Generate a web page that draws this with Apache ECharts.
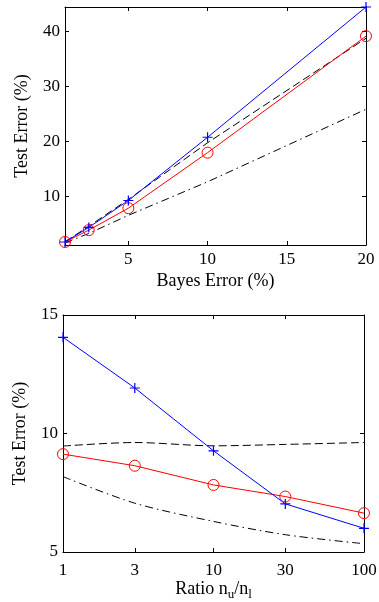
<!DOCTYPE html>
<html>
<head>
<meta charset="utf-8">
<script src="https://cdn.jsdelivr.net/npm/echarts@6/dist/echarts.min.js"></script>
<style>
  html, body { margin: 0; padding: 0; background: #fff; }
  #chart { width: 379px; height: 602px; }
</style>
</head>
<body>
<div id="chart"></div>
<script>
// top panel: test error vs bayes error
const bayesErr = [1, 2.5, 5, 10, 20];
const topBlue = [1.75, 4.4, 9.3, 20.8, 44.5];
const topRed = [1.75, 3.9, 7.9, 18.0, 39.2];
const topDash = [1.8, 4.6, 9.5, 19.8, 38.8];
const topDashDot = [1.6, 3.3, 6.6, 12.7, 25.9];
const topXTicks = [5, 10, 15, 20];
const topYTicks = [10, 20, 30, 40];

// bottom panel: test error vs ratio nu/nl
const ratio = [1, 3, 10, 30, 100];
const botBlue = [14.06, 11.92, 9.27, 7.03, 6.0];
const botRed = [9.13, 8.64, 7.83, 7.34, 6.64];
const botDash = [9.47, 9.62, 9.48, 9.54, 9.62];
const botDashDot = [8.18, 7.06, 6.29, 5.73, 5.35];
const botXTicks = [1, 3, 10, 30, 100];
const botYTicks = [5, 10, 15];

const font = 'Liberation Serif';
const plus = 'path://M4.4,0H5.6V4.4H10V5.6H5.6V10H4.4V5.6H0V4.4H4.4Z';

const pair = (xs, ys) => xs.map((x, i) => [x, ys[i]]);

function xAx(grid, pos, min, max, ticks, extra) {
    return Object.assign({
        gridIndex: grid,
        position: pos,
        min: min,
        max: max,
        splitLine: { show: false },
        axisLine: { onZero: false, lineStyle: { color: '#000', width: 1 } },
        axisTick: { inside: true, length: 4, customValues: ticks, lineStyle: { color: '#000' } },
        axisLabel: pos === 'bottom'
            ? { customValues: ticks, color: '#000', fontFamily: font, fontSize: 17, margin: 6 }
            : { show: false }
    }, extra);
}

function yAx(grid, pos, min, max, ticks, extra) {
    return Object.assign({
        type: 'value',
        gridIndex: grid,
        position: pos,
        min: min,
        max: max,
        splitLine: { show: false },
        axisLine: { onZero: false, lineStyle: { color: '#000', width: 1 } },
        axisTick: { inside: true, length: 4, customValues: ticks, lineStyle: { color: '#000' } },
        axisLabel: pos === 'left'
            ? { customValues: ticks, color: '#000', fontFamily: font, fontSize: 17, margin: 5 }
            : { show: false }
    }, extra);
}

function lines(xi, yi, xs, blue, red, dash, dashdot, smooth) {
    return [
        {
            type: 'line', xAxisIndex: xi, yAxisIndex: yi, data: pair(xs, dashdot),
            showSymbol: false, smooth: smooth, silent: true,
            lineStyle: { color: '#000', width: 1, type: [8, 4, 1.5, 4] }
        },
        {
            type: 'line', xAxisIndex: xi, yAxisIndex: yi, data: pair(xs, dash),
            showSymbol: false, smooth: smooth, silent: true,
            lineStyle: { color: '#000', width: 1, type: [8, 4] }
        },
        {
            type: 'line', xAxisIndex: xi, yAxisIndex: yi, data: pair(xs, red),
            symbol: 'circle', symbolSize: 11, silent: true,
            lineStyle: { color: '#ff0000', width: 1 },
            itemStyle: { color: 'rgba(0,0,0,0)', borderColor: '#ff0000', borderWidth: 1 }
        },
        {
            type: 'line', xAxisIndex: xi, yAxisIndex: yi, data: pair(xs, blue),
            symbol: plus, symbolSize: 10, silent: true,
            lineStyle: { color: '#0000ff', width: 1 },
            itemStyle: { color: '#0000ff' }
        }
    ];
}

const chart = echarts.init(document.getElementById('chart'));

const nameStyle = { color: '#000', fontFamily: font, fontSize: 18 };

const option = {
    animation: false,
    backgroundColor: '#fff',
    grid: [
        { left: 65, top: 7, width: 301, height: 238, outerBoundsMode: 'none' },
        { left: 63, top: 315, width: 301, height: 237, outerBoundsMode: 'none' }
    ],
    xAxis: [
        xAx(0, 'bottom', 1, 20, topXTicks, {
            type: 'value',
            name: 'Bayes Error (%)', nameLocation: 'middle', nameGap: 27,
            nameTextStyle: nameStyle
        }),
        xAx(0, 'top', 1, 20, topXTicks.slice(0, 3), { type: 'value' }),
        xAx(1, 'bottom', 1, 100, botXTicks, {
            type: 'log', logBase: 10,
            axisLabel: { customValues: botXTicks, color: '#000', fontFamily: font, fontSize: 17, margin: 10 },
            name: '{t|Ratio n}{sub|u}{t|/n}{sub|l}', nameLocation: 'middle', nameGap: 24,
            nameTextStyle: {
                color: '#000', fontFamily: font, fontSize: 18,
                rich: {
                    t: { fontFamily: font, fontSize: 18, color: '#000', verticalAlign: 'top', lineHeight: 18 },
                    sub: { fontFamily: font, fontSize: 13, color: '#000', verticalAlign: 'top', lineHeight: 13, padding: [8, 0, 0, 0] }
                }
            }
        }),
        xAx(1, 'top', 1, 100, [3, 10, 30], { type: 'log', logBase: 10 })
    ],
    yAxis: [
        yAx(0, 'left', 1.2, 44.5, topYTicks, {
            name: 'Test Error (%)', nameLocation: 'middle', nameGap: 34,
            nameTextStyle: nameStyle
        }),
        yAx(0, 'right', 1.2, 44.5, topYTicks),
        yAx(1, 'left', 5, 15, botYTicks, {
            name: 'Test Error (%)', nameLocation: 'middle', nameGap: 34,
            nameTextStyle: nameStyle
        }),
        yAx(1, 'right', 5, 15, [10])
    ],
    series: [].concat(
        lines(0, 0, bayesErr, topBlue, topRed, topDash, topDashDot, false),
        lines(2, 2, ratio, botBlue, botRed, botDash, botDashDot, 0.3)
    )
};

chart.setOption(option);
</script>
</body>
</html>
